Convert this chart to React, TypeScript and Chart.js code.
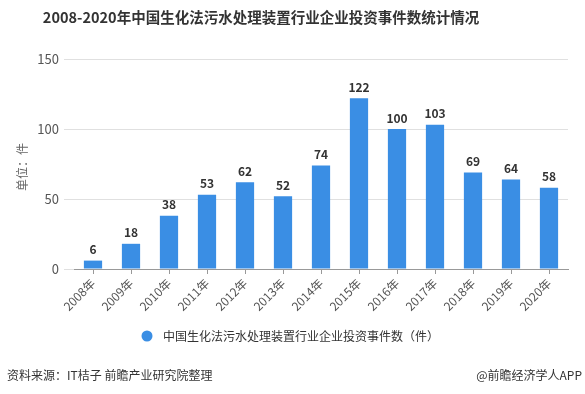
import React, { useEffect, useRef } from "react";
import { Chart, registerables } from "chart.js";
Chart.register(...registerables);

const years = ["2008年","2009年","2010年","2011年","2012年","2013年","2014年","2015年","2016年","2017年","2018年","2019年","2020年"];
const counts = [6, 18, 38, 53, 62, 52, 74, 122, 100, 103, 69, 64, 58];
const seriesName = "中国生化法污水处理装置行业企业投资事件数（件）";
const titleText = "2008-2020年中国生化法污水处理装置行业企业投资事件数统计情况";
const yTitle = "单位：件";
const sourceText = "资料来源：IT桔子 前瞻产业研究院整理";
const brandText = "@前瞻经济学人APP";

const CJK = '"Noto Sans CJK SC", "Microsoft YaHei", sans-serif';
const BAR = "#3a8ee4";

const overlay = {
  id: "overlay",
  afterDatasetsDraw(chart: any) {
    const ctx = chart.ctx;
    const meta = chart.getDatasetMeta(0);
    ctx.save();
    ctx.fillStyle = "#333";
    ctx.font = `bold 12px ${CJK}`;
    ctx.textAlign = "center";
    ctx.textBaseline = "bottom";
    meta.data.forEach((el: any, i: number) => {
      ctx.fillText(String(counts[i]), el.x, el.y - 5);
    });
    ctx.restore();
  },
  afterDraw(chart: any) {
    const ctx = chart.ctx;
    ctx.save();
    // title
    ctx.fillStyle = "#333";
    ctx.font = `bold 14.5px ${CJK}`;
    ctx.textAlign = "center";
    ctx.textBaseline = "middle";
    ctx.fillText(titleText, 261, 17);
    // y title
    ctx.save();
    ctx.translate(22, 167);
    ctx.rotate(-Math.PI / 2);
    ctx.fillStyle = "#666";
    ctx.font = `12px ${CJK}`;
    ctx.fillText(yTitle, 0, 0);
    ctx.restore();
    // legend
    ctx.fillStyle = BAR;
    ctx.beginPath();
    ctx.arc(147, 336, 5.5, 0, Math.PI * 2);
    ctx.fill();
    ctx.fillStyle = "#333";
    ctx.font = `12px ${CJK}`;
    ctx.textAlign = "left";
    ctx.fillText(seriesName, 163, 336);
    // footer
    ctx.font = `12px ${CJK}`;
    ctx.fillStyle = "#333";
    ctx.textAlign = "left";
    ctx.fillText(sourceText, 7, 375);
    ctx.textAlign = "right";
    ctx.fillText(brandText, 582, 375);
    ctx.restore();
  },
};

export default function App() {
  const ref = useRef<HTMLCanvasElement>(null);
  useEffect(() => {
    const chart = new Chart(ref.current!, {
      type: "bar",
      data: {
        labels: years,
        datasets: [{ label: seriesName, data: counts, backgroundColor: BAR, barPercentage: 0.48, categoryPercentage: 1 }],
      },
      options: {
        responsive: false,
        animation: false,
        layout: { padding: { left: 0, right: 17, top: 59, bottom: 0 } },
        plugins: { legend: { display: false }, title: { display: false }, tooltip: { enabled: false } },
        scales: {
          x: {
            offset: true,
            grid: { display: true, offset: false, drawOnChartArea: false, drawTicks: true, tickLength: 5, color: "#999" },
            border: { display: true, color: "#999" },
            ticks: { color: "#555", font: { size: 12, family: CJK }, minRotation: 45, maxRotation: 45, padding: 2 },
            afterFit(scale: any) { scale.height = 125; },
          },
          y: {
            min: 0,
            max: 150,
            ticks: { stepSize: 50, color: "#555", font: { size: 13, family: CJK }, padding: 5 },
            grid: { color: "#e0e0e0", drawTicks: true, tickLength: 10 },
            border: { display: false },
            afterFit(scale: any) { scale.width = 74; },
          },
        },
      },
      plugins: [overlay],
    });
    return () => chart.destroy();
  }, []);
  return (
    <div style={{ position: "absolute", left: 0, top: 0, width: 585, height: 394, background: "#fff" }}>
      <canvas ref={ref} width={585} height={394} />
    </div>
  );
}
